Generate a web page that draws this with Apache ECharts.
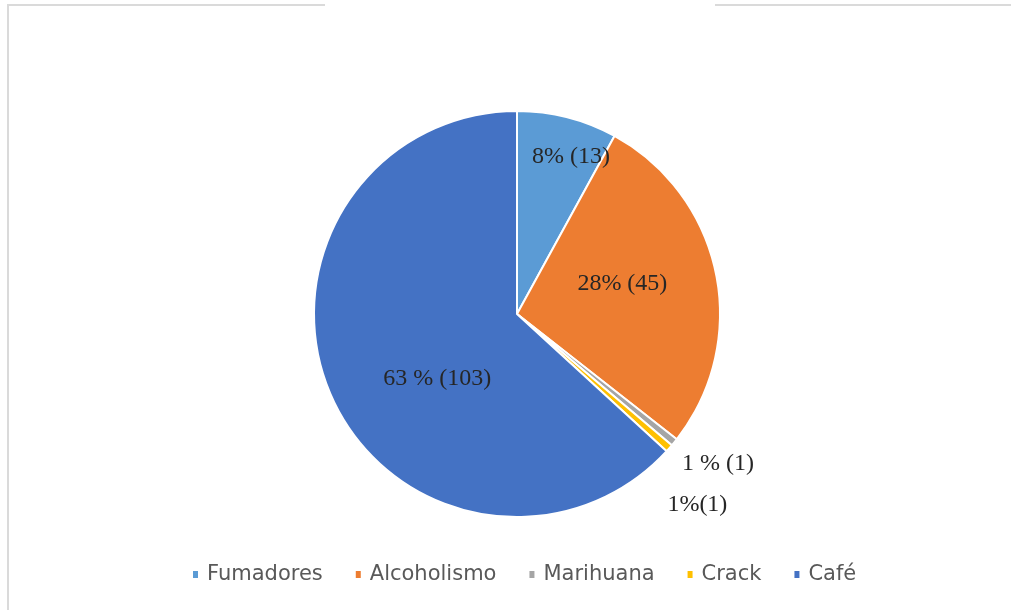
<!DOCTYPE html>
<html>
<head>
<meta charset="utf-8">
<script src="https://cdn.jsdelivr.net/npm/echarts@6/dist/echarts.min.js"></script>
<style>
  html, body { margin: 0; padding: 0; background: #ffffff; }
  #chart { width: 1011px; height: 610px; }
</style>
</head>
<body>
<div id="chart"></div>
<script>
// Consumption habits: categories, counts and the printed slice labels
const categories = ['Fumadores', 'Alcoholismo', 'Marihuana', 'Crack', 'Café'];
const counts = [13, 45, 1, 1, 103];
const sliceLabels = ['8% (13)', '28% (45)', '1 % (1)', '1%(1)', '63 % (103)'];
const sliceColors = ['#5B9BD5', '#ED7D31', '#A5A5A5', '#FFC000', '#4472C4'];

// Nudges applied to each label from its default inside position
const labelNudges = [[28, -56], [3, -9], [120, 84], [102, 122], [16, 23]];

const chart = echarts.init(document.getElementById('chart'), null, { renderer: 'canvas' });

const pieData = categories.map((name, i) => ({
  name: name,
  value: counts[i],
  itemStyle: { color: sliceColors[i] }
}));

chart.setOption({
  animation: false,
  backgroundColor: '#ffffff',
  graphic: [
    { type: 'line', shape: { x1: 7, y1: 5, x2: 325, y2: 5 }, style: { stroke: '#dadada', lineWidth: 2 } },
    { type: 'line', shape: { x1: 715, y1: 5, x2: 1011, y2: 5 }, style: { stroke: '#dadada', lineWidth: 2 } },
    { type: 'line', shape: { x1: 8, y1: 5, x2: 8, y2: 610 }, style: { stroke: '#dadada', lineWidth: 2 } }
  ],
  legend: {
    data: categories,
    left: 186,
    top: 559,
    orient: 'horizontal',
    icon: 'rect',
    itemWidth: 7,
    itemHeight: 9,
    itemGap: 31,
    selectedMode: false,
    textStyle: {
      fontFamily: 'DejaVu Sans',
      fontSize: 21,
      color: '#595959',
      padding: [0, 0, 0, 3]
    }
  },
  series: [{
    type: 'pie',
    center: [517, 314],
    radius: 203,
    startAngle: 90,
    clockwise: true,
    avoidLabelOverlap: false,
    silent: true,
    data: pieData,
    itemStyle: { borderColor: '#ffffff', borderWidth: 2 },
    label: {
      show: true,
      position: 'inside',
      formatter: p => sliceLabels[p.dataIndex],
      fontFamily: 'Liberation Serif',
      fontSize: 24,
      color: '#262626'
    },
    labelLine: { show: false },
    labelLayout: p => ({ dx: labelNudges[p.dataIndex][0], dy: labelNudges[p.dataIndex][1] })
  }]
});
</script>
</body>
</html>
